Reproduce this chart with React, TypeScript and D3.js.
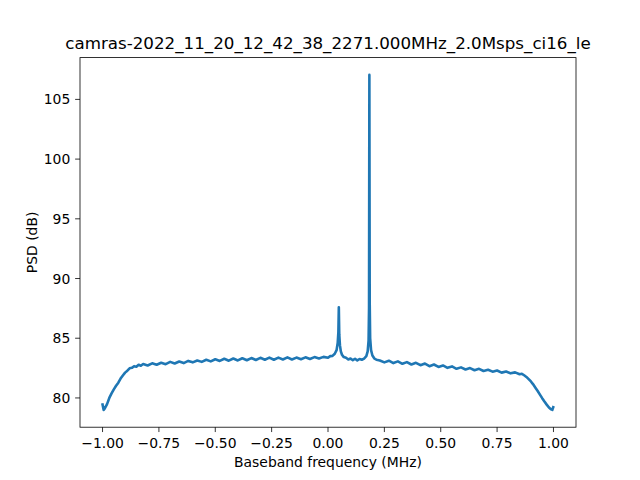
import React from "react";
import * as d3 from "d3";

const TITLE = "camras-2022_11_20_12_42_38_2271.000MHz_2.0Msps_ci16_le";
const X_LABEL = "Baseband frequency (MHz)";
const Y_LABEL = "PSD (dB)";
const X_TICKS = [-1.0, -0.75, -0.5, -0.25, 0.0, 0.25, 0.5, 0.75, 1.0];
const Y_TICKS = [80, 85, 90, 95, 100, 105];

const FREQ = [
  -1.0, -0.995, -0.99, -0.98, -0.97, -0.96, -0.95, -0.94, -0.93, -0.92, -0.91, -0.9, -0.89, -0.88,
  -0.87, -0.86, -0.85, -0.84, -0.83, -0.82, -0.8, -0.78, -0.76, -0.74, -0.72, -0.7, -0.68, -0.66,
  -0.64, -0.62, -0.6, -0.58, -0.56, -0.54, -0.52, -0.5, -0.48, -0.46, -0.44, -0.42, -0.4, -0.38,
  -0.36, -0.34, -0.32, -0.3, -0.28, -0.26, -0.24, -0.22, -0.2, -0.18, -0.16, -0.14, -0.12, -0.1,
  -0.08, -0.06, -0.04, -0.02, 0.0, 0.01, 0.02, 0.03, 0.038, 0.043, 0.046, 0.048, 0.05, 0.053,
  0.057, 0.062, 0.07, 0.08, 0.09, 0.1, 0.11, 0.12, 0.13, 0.14, 0.15, 0.16, 0.17, 0.176, 0.18,
  0.182, 0.1835, 0.185, 0.187, 0.191, 0.197, 0.205, 0.215, 0.23, 0.25, 0.27, 0.29, 0.31, 0.33,
  0.35, 0.37, 0.39, 0.41, 0.43, 0.45, 0.47, 0.49, 0.51, 0.53, 0.55, 0.57, 0.59, 0.61, 0.63, 0.65,
  0.67, 0.69, 0.71, 0.73, 0.75, 0.77, 0.79, 0.81, 0.83, 0.85, 0.86, 0.87, 0.88, 0.89, 0.9, 0.91,
  0.92, 0.93, 0.94, 0.95, 0.96, 0.97, 0.98, 0.99, 0.995, 0.999,
];

const PSD = [
  79.45, 79.0, 79.12, 79.48, 80.0, 80.38, 80.72, 81.02, 81.28, 81.62, 81.88, 82.12, 82.28, 82.48,
  82.52, 82.66, 82.62, 82.78, 82.7, 82.84, 82.72, 82.9, 82.78, 82.95, 82.83, 83.02, 82.88, 83.05,
  82.92, 83.1, 82.98, 83.14, 83.02, 83.2, 83.06, 83.24, 83.1, 83.28, 83.12, 83.3, 83.14, 83.32,
  83.16, 83.34, 83.18, 83.36, 83.2, 83.38, 83.2, 83.38, 83.22, 83.4, 83.22, 83.38, 83.24, 83.4,
  83.26, 83.42, 83.3, 83.44, 83.36, 83.5, 83.52, 83.7, 84.0, 84.6, 85.5, 87.6, 85.3, 84.4,
  83.9, 83.62, 83.42, 83.36, 83.22, 83.3, 83.16, 83.28, 83.14, 83.26, 83.2, 83.3, 83.5, 83.9, 84.8,
  87.5, 107.05, 88.0, 85.0, 84.0, 83.55, 83.32, 83.2, 83.14, 82.98, 83.12, 82.92, 83.06, 82.86,
  83.0, 82.8, 82.94, 82.74, 82.88, 82.66, 82.8, 82.6, 82.72, 82.52, 82.64, 82.44, 82.56, 82.38, 82.5, 82.32,
  82.44, 82.26, 82.36, 82.2, 82.3, 82.12, 82.22, 82.06, 82.14, 81.98, 82.02, 81.9, 81.76, 81.58, 81.38, 81.14,
  80.86, 80.58, 80.28, 79.98, 79.7, 79.44, 79.2, 79.04, 79.0, 79.22,
];

const W = 640;
const H = 480;
const L = 80;
const R = 576;
const T = 57.6;
const B = 427.2;
const FONT = "DejaVu Sans, sans-serif";
const COLOR = "#1f77b4";

export default function App() {
  const x = d3.scaleLinear().domain([-1.1, 1.1]).range([L, R]);
  const y = d3.scaleLinear().domain([77.55, 108.5]).range([B, T]);
  const data = FREQ.map((f, i) => [f, PSD[i]] as [number, number]);
  const line = d3
    .line<[number, number]>()
    .x((d) => x(d[0]))
    .y((d) => y(d[1]));
  const tickLen = 4.86;
  return (
    <svg width={W} height={H} style={{ display: "block", position: "absolute", left: 0, top: 0 }}>
      <rect x={0} y={0} width={W} height={H} fill="#fff" />
      <defs>
        <clipPath id="clip">
          <rect x={L} y={T} width={R - L} height={B - T} />
        </clipPath>
      </defs>
      <path
        d={line(data) || ""}
        fill="none"
        stroke={COLOR}
        strokeWidth={2.6}
        strokeLinejoin="round"
        strokeLinecap="square"
        clipPath="url(#clip)"
      />
      <rect x={L} y={T} width={R - L} height={B - T} fill="none" stroke="#000" strokeWidth={0.8} />
      {X_TICKS.map((t) => (
        <g key={"x" + t}>
          <line x1={x(t)} x2={x(t)} y1={B} y2={B + tickLen} stroke="#000" strokeWidth={0.8} />
          <text x={x(t)} y={B + 2 * tickLen + 10.6} textAnchor="middle" fontFamily={FONT} fontSize={13.9}>
            {d3.format(".2f")(t).replace("-", "\u2212")}
          </text>
        </g>
      ))}
      {Y_TICKS.map((t) => (
        <g key={"y" + t}>
          <line x1={L - tickLen} x2={L} y1={y(t)} y2={y(t)} stroke="#000" strokeWidth={0.8} />
          <text x={L - 2 * tickLen} y={y(t)} dy="0.36em" textAnchor="end" fontFamily={FONT} fontSize={13.9}>
            {String(t)}
          </text>
        </g>
      ))}
      <text x={(L + R) / 2} y={467} textAnchor="middle" fontFamily={FONT} fontSize={13.9}>
        {X_LABEL}
      </text>
      <text
        transform={`translate(36.5,${(T + B) / 2}) rotate(-90)`}
        textAnchor="middle"
        fontFamily={FONT}
        fontSize={13.9}
      >
        {Y_LABEL}
      </text>
      <text x={(L + R) / 2} y={49.3} textAnchor="middle" fontFamily={FONT} fontSize={16.7}>
        {TITLE}
      </text>
    </svg>
  );
}
